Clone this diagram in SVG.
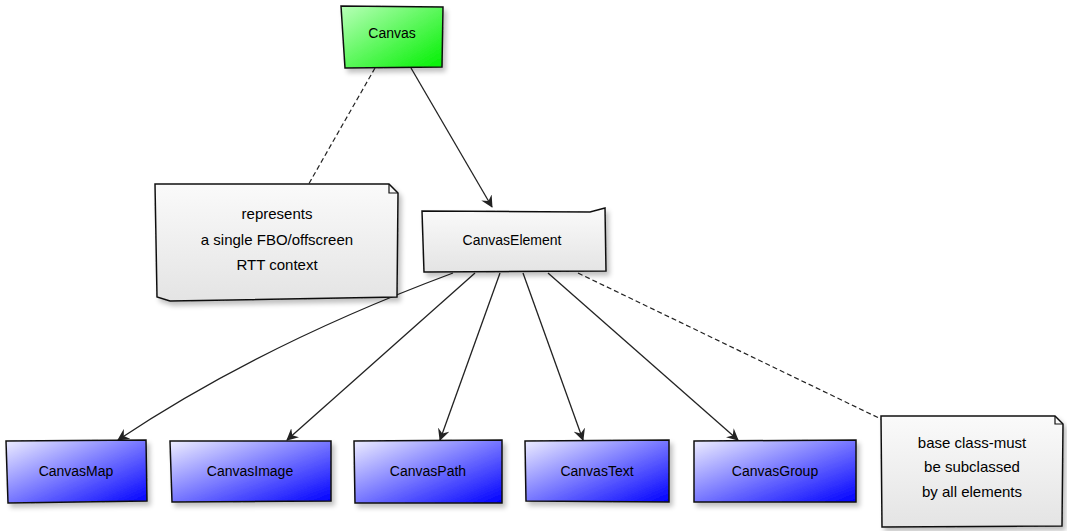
<svg xmlns="http://www.w3.org/2000/svg" width="1067" height="531" viewBox="0 0 1067 531">
<defs>
<linearGradient id="gGreen" x1="0" y1="0" x2="1" y2="1"><stop offset="0" stop-color="#b8ffb8"/><stop offset="1" stop-color="#00f000"/></linearGradient>
<linearGradient id="gBlue" x1="0" y1="0" x2="1" y2="1"><stop offset="0" stop-color="#eeeeff"/><stop offset="1" stop-color="#0000ff"/></linearGradient>
<linearGradient id="gGray" x1="0" y1="0" x2="0" y2="1"><stop offset="0" stop-color="#fafafa"/><stop offset="1" stop-color="#e4e4e4"/></linearGradient>
<filter id="sh" x="-10%" y="-10%" width="130%" height="140%"><feGaussianBlur in="SourceAlpha" stdDeviation="2.5"/><feOffset dx="3" dy="4"/><feComponentTransfer><feFuncA type="linear" slope="0.25"/></feComponentTransfer><feMerge><feMergeNode/><feMergeNode in="SourceGraphic"/></feMerge></filter>
<marker id="arr" viewBox="0 0 12 12" refX="11" refY="6" markerWidth="12" markerHeight="12" markerUnits="userSpaceOnUse" orient="auto"><path d="M0,0 L12,6 L0,12 L4,6 Z" fill="#222"/></marker>
</defs>
<style>
.box{stroke:#111;stroke-width:1.5;filter:url(#sh)}
.lbl{font-family:"Liberation Sans",Arial,sans-serif;font-size:14px;fill:#000;text-anchor:middle}
.nt{font-size:15px}
.edge{fill:none;stroke:#222;stroke-width:1.3;marker-end:url(#arr)}
.dash{fill:none;stroke:#222;stroke-width:1.2;stroke-dasharray:5,3}
</style>
<g id="connectors">
<path class="edge" d="M411,68 L492,207"/>
<path class="dash" d="M375,68 L307,187"/>
<path class="edge" d="M453,273 Q260,345 118,440"/>
<path class="edge" d="M475,273 L287,440"/>
<path class="edge" d="M500,273 L440,440"/>
<path class="edge" d="M523,273 L583,440"/>
<path class="edge" d="M548,273 L738,440"/>
<path class="dash" d="M578,273 L883,420"/>
</g>
<g id="Canvas"><path class="box" fill="url(#gGreen)" d="M341,6 L443,7 L442,67 L345,68 Z"/><text class="lbl" x="392" y="38">Canvas</text></g>
<g id="CanvasElement"><path class="box" fill="url(#gGray)" d="M422,211 L590,212 L605,208 L606,271 L424,272 Z"/><text class="lbl" x="512" y="245">CanvasElement</text></g>
<g id="note1"><path class="box" fill="url(#gGray)" d="M155,184 L389,184 L398,193 L397,297 L170,301 L157,297 Z"/><path d="M389,184 L389,193 L398,193" fill="none" stroke="#111" stroke-width="1.2"/><text class="lbl nt" x="277" y="219">represents</text><text class="lbl nt" x="277" y="245">a single FBO/offscreen</text><text class="lbl nt" x="277" y="270">RTT context</text></g>
<g id="CanvasMap"><path class="box" fill="url(#gBlue)" d="M6,441 L146,440 L147,501 L8,503 Z"/><text class="lbl" x="76" y="476">CanvasMap</text></g>
<g id="CanvasImage"><path class="box" fill="url(#gBlue)" d="M170,441 L331,441 L331,501 L172,502 Z"/><text class="lbl" x="250" y="476">CanvasImage</text></g>
<g id="CanvasPath"><path class="box" fill="url(#gBlue)" d="M354,441 L502,440 L502,503 L355,503 Z"/><text class="lbl" x="428" y="476">CanvasPath</text></g>
<g id="CanvasText"><path class="box" fill="url(#gBlue)" d="M525,441 L669,440 L669,502 L526,501 Z"/><text class="lbl" x="597" y="476">CanvasText</text></g>
<g id="CanvasGroup"><path class="box" fill="url(#gBlue)" d="M694,441 L856,440 L856,502 L694,502 Z"/><text class="lbl" x="775" y="476">CanvasGroup</text></g>
<g id="note2"><path class="box" fill="url(#gGray)" d="M881,416 L1055,416 L1063,424 L1062,526 L882,527 Z"/><path d="M1055,416 L1055,424 L1063,424" fill="none" stroke="#111" stroke-width="1.2"/><text class="lbl nt" x="972" y="448">base class-must</text><text class="lbl nt" x="972" y="472">be subclassed</text><text class="lbl nt" x="972" y="497">by all elements</text></g>
</svg>
